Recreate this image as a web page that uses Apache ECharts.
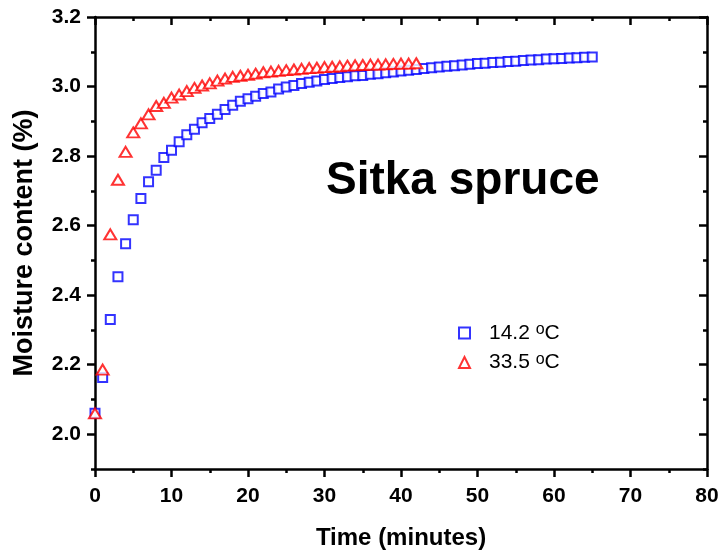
<!DOCTYPE html>
<html>
<head>
<meta charset="utf-8">
<script src="https://cdn.jsdelivr.net/npm/echarts@6/dist/echarts.min.js"></script>
<style>
  html, body { margin: 0; padding: 0; background: #fff; }
  #chart { width: 722px; height: 555px; }
</style>
</head>
<body>
<div id="chart"></div>
<script>
// Sitka spruce sorption curves
var timeCold = [0,1,2,3,4,5,6,7,8,9,10,11,12,13,14,15,16,17,18,19,20,21,22,23,24,25,26,27,28,29,30,31,32,
  33,34,35,36,37,38,39,40,41,42,43,44,45,46,47,48,49,50,51,52,53,54,55,56,57,58,59,60,61,62,63,64,65]
var mcCold = [2.06,2.163,2.33,2.453,2.548,2.617,2.678,2.726,2.759,2.796,2.817,2.841,2.861,2.877,2.896,2.908,
  2.92,2.934,2.946,2.958,2.965,2.972,2.98,2.984,2.993,2.999,3.003,3.009,3.012,3.016,3.02,3.023,3.026,3.028,
  3.031,3.032,3.035,3.037,3.04,3.042,3.045,3.047,3.049,3.052,3.054,3.056,3.058,3.06,3.062,3.064,3.066,3.067,
  3.069,3.07,3.072,3.073,3.075,3.076,3.077,3.079,3.08,3.081,3.082,3.083,3.084,3.085]

var timeWarm = [0,1,2,3,4,5,6,7,8,9,10,11,12,13,14,15,16,17,18,19,20,21,22,23,24,25,26,27,28,29,30,31,32,
  33,34,35,36,37,38,39,40,41,42]
var mcWarm = [2.06,2.186,2.575,2.732,2.812,2.868,2.894,2.92,2.944,2.953,2.968,2.977,2.987,2.996,3.003,3.009,
  3.017,3.023,3.028,3.031,3.034,3.037,3.041,3.043,3.045,3.047,3.049,3.051,3.053,3.054,3.056,3.057,3.058,
  3.06,3.061,3.062,3.063,3.063,3.064,3.065,3.066,3.066,3.067]

var seriesNames = ['14.2 °C', '33.5 °C']
var yMajorTicks = [2.0, 2.2, 2.4, 2.6, 2.8, 3.0, 3.2]
var yMinorTicks = [1.9, 2.1, 2.3, 2.5, 2.7, 2.9, 3.1]

var FONT = "'Liberation Sans', Arial, sans-serif"
var AXW = 2.5

function pairs(xs, ys) {
  return xs.map(function (x, i) { return [x, ys[i]] })
}

function xAx(pos, inside, showLabel) {
  return {
    type: 'value', position: pos, min: 0, max: 80, interval: 10,
    axisLine: { show: true, onZero: false, lineStyle: { color: '#000', width: AXW } },
    axisTick: { show: true, inside: inside, length: 8, lineStyle: { color: '#000', width: AXW } },
    minorTick: { show: true, splitNumber: 2, length: 4, lineStyle: { color: '#000', width: AXW } },
    axisLabel: { show: showLabel, margin: 17, color: '#000', fontFamily: FONT, fontWeight: 'bold', fontSize: 21 },
    splitLine: { show: false },
    name: showLabel ? 'Time (minutes)' : '',
    nameLocation: 'middle', nameGap: 57,
    nameTextStyle: { color: '#000', fontFamily: FONT, fontWeight: 'bold', fontSize: 24 }
  }
}

function yAx(pos, inside, ticks, len, showLine, showLabel) {
  return {
    type: 'value', position: pos, min: 1.9, max: 3.2,
    axisLine: { show: showLine, onZero: false, lineStyle: { color: '#000', width: AXW } },
    axisTick: { show: true, inside: inside, length: len, customValues: ticks, lineStyle: { color: '#000', width: AXW } },
    axisLabel: {
      show: showLabel, customValues: ticks, margin: 14, color: '#000', fontFamily: FONT, fontWeight: 'bold', fontSize: 21,
      formatter: function (v) { return v.toFixed(1) }
    },
    splitLine: { show: false },
    name: showLabel ? 'Moisture content (%)' : '',
    nameLocation: 'middle', nameGap: 57,
    nameTextStyle: { color: '#000', fontFamily: FONT, fontWeight: 'bold', fontSize: 27 }
  }
}

var chart = echarts.init(document.getElementById('chart'))

chart.setOption({
  backgroundColor: '#fff',
  animation: false,
  grid: { left: 95, right: 15, top: 17, bottom: 82 },
  xAxis: [xAx('bottom', false, true), xAx('top', true, false)],
  yAxis: [
    yAx('left', false, yMajorTicks, 8, true, true),
    yAx('left', false, yMinorTicks, 4, false, false),
    yAx('right', true, yMajorTicks, 8, true, false),
    yAx('right', true, yMinorTicks, 4, false, false)
  ],
  legend: {
    orient: 'vertical', left: 453, top: 317, itemGap: 8,
    itemWidth: 11, itemHeight: 11,
    data: seriesNames,
    formatter: function (n) {
      return '{g|}{t|' + n.replace(' °C', '') + ' }{s|o}{t|C}'
    },
    textStyle: {
      color: '#000', fontFamily: FONT, fontSize: 21,
      rich: {
        g: { width: 14 },
        t: { fontSize: 21, fontFamily: FONT, color: '#000', lineHeight: 22 },
        s: { fontSize: 16, fontFamily: FONT, color: '#000', verticalAlign: 'top', lineHeight: 14 }
      }
    }
  },
  graphic: [{
    type: 'text', left: 326, top: 158,
    style: { text: 'Sitka spruce', font: 'bold 46px ' + FONT, fill: '#000' }
  }],
  series: [
    {
      name: seriesNames[0], type: 'scatter', xAxisIndex: 0, yAxisIndex: 0,
      symbol: 'emptyRect', symbolSize: 9,
      itemStyle: { color: '#0000ff', borderWidth: 2 },
      data: pairs(timeCold, mcCold)
    },
    {
      name: seriesNames[1], type: 'scatter', xAxisIndex: 0, yAxisIndex: 0,
      symbol: 'emptyTriangle', symbolSize: [12, 10],
      itemStyle: { color: '#ff0000', borderWidth: 2 },
      data: pairs(timeWarm, mcWarm)
    }
  ]
})
</script>
</body>
</html>
